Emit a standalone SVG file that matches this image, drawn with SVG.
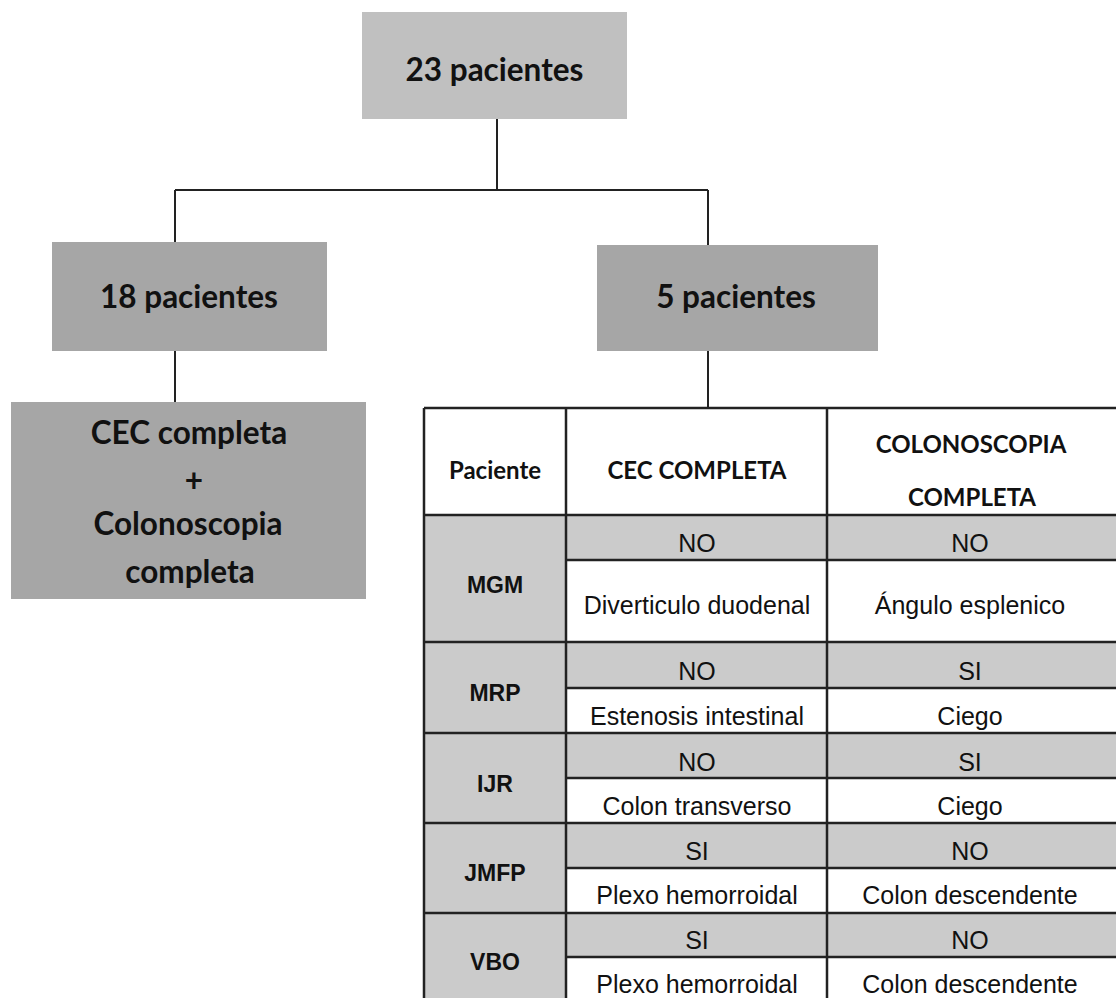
<svg xmlns="http://www.w3.org/2000/svg" width="1116" height="998" viewBox="0 0 1116 998">
<style>
.box{stroke:none}
.lt{fill:#c0c0c0}
.dk{fill:#a6a6a6}
.bt{font-family:Lato,"Noto Sans",sans-serif;font-weight:bold;font-size:31.5px;fill:#111;text-anchor:middle}
.hd{font-family:Lato,"Noto Sans",sans-serif;font-weight:bold;font-size:24px;fill:#111;text-anchor:middle}
.rl{font-family:"Liberation Sans",sans-serif;font-weight:bold;font-size:23px;fill:#111;text-anchor:middle}
.dt{font-family:"Liberation Sans",sans-serif;font-size:25px;fill:#111;text-anchor:middle}
.ln{stroke:#222;stroke-width:2;fill:none}
.tl{stroke:#222;stroke-width:2.5;fill:none}
.g{fill:#cbcbcb}
.w{fill:#ffffff}
</style>
<g id="connectors">
<path class="ln" d="M497 119V190M175 190H708M175 190V242M708 190V245M175 351V402M708 351V408"/>
</g>
<g id="n23"><rect class="box lt" x="362" y="12" width="265" height="107"/><text class="bt" x="494.5" y="81">23 pacientes</text></g>
<g id="n18"><rect class="box dk" x="52" y="242" width="275" height="109"/><text class="bt" x="189" y="308">18 pacientes</text></g>
<g id="n5"><rect class="box dk" x="597" y="245" width="281" height="106"/><text class="bt" x="736" y="308">5 pacientes</text></g>
<g id="ncec"><rect class="box dk" x="11" y="402" width="355" height="197"/>
<text class="bt" x="189" y="444">CEC completa</text>
<text class="bt" x="194" y="492">+</text>
<text class="bt" x="188" y="535">Colonoscopia</text>
<text class="bt" x="190" y="583">completa</text></g>
<g id="table">
<rect class="w" x="424" y="408" width="692" height="107"/>
<rect class="g" x="424" y="515" width="142" height="483"/>
<rect class="g" x="566" y="515" width="550" height="45"/>
<rect class="w" x="566" y="560" width="550" height="82"/>
<rect class="g" x="566" y="642" width="550" height="46"/>
<rect class="w" x="566" y="688" width="550" height="45"/>
<rect class="g" x="566" y="733" width="550" height="45"/>
<rect class="w" x="566" y="778" width="550" height="45"/>
<rect class="g" x="566" y="823" width="550" height="45"/>
<rect class="w" x="566" y="868" width="550" height="45"/>
<rect class="g" x="566" y="913" width="550" height="44"/>
<rect class="w" x="566" y="957" width="550" height="41"/>
<path class="tl" d="M424 408H1116M424 408V998M566 408V998M827 408V998M424 515H1116M424 642H1116M424 733H1116M424 823H1116M424 913H1116M566 560H1116M566 688H1116M566 778H1116M566 868H1116M566 957H1116"/>
<text class="hd" x="495" y="479">Paciente</text>
<text class="hd" x="697" y="479">CEC COMPLETA</text>
<text class="hd" x="971" y="453">COLONOSCOPIA</text>
<text class="hd" x="972" y="506">COMPLETA</text>
<text class="rl" x="495" y="593">MGM</text>
<text class="dt" x="697" y="552">NO</text>
<text class="dt" x="970" y="552">NO</text>
<text class="dt" x="697" y="614">Diverticulo duodenal</text>
<text class="dt" x="970" y="614">Ángulo esplenico</text>
<text class="rl" x="495" y="701">MRP</text>
<text class="dt" x="697" y="680">NO</text>
<text class="dt" x="970" y="680">SI</text>
<text class="dt" x="697" y="725">Estenosis intestinal</text>
<text class="dt" x="970" y="725">Ciego</text>
<text class="rl" x="495" y="792">IJR</text>
<text class="dt" x="697" y="771">NO</text>
<text class="dt" x="970" y="771">SI</text>
<text class="dt" x="697" y="815">Colon transverso</text>
<text class="dt" x="970" y="815">Ciego</text>
<text class="rl" x="495" y="881">JMFP</text>
<text class="dt" x="697" y="860">SI</text>
<text class="dt" x="970" y="860">NO</text>
<text class="dt" x="697" y="904">Plexo hemorroidal</text>
<text class="dt" x="970" y="904">Colon descendente</text>
<text class="rl" x="495" y="970">VBO</text>
<text class="dt" x="697" y="949">SI</text>
<text class="dt" x="970" y="949">NO</text>
<text class="dt" x="697" y="993">Plexo hemorroidal</text>
<text class="dt" x="970" y="993">Colon descendente</text>
</g>
</svg>
